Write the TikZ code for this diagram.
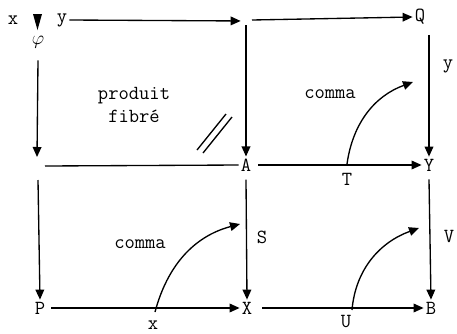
\documentclass[tikz,border=0pt]{standalone}
\usetikzlibrary{arrows.meta,calc}
\begin{document}
\begin{tikzpicture}[x=0.75pt,y=-0.75pt,
  lbl/.style={inner sep=1.5pt,font=\ttfamily\fontsize{15}{17}\selectfont},
  ar/.style={line width=1pt,-{Triangle[length=7.5pt,width=6.5pt]}},
  ln/.style={line width=1pt}]
\useasboundingbox (0,0) rectangle (457,333);
% objects
\node[lbl] (x) at (13,20) {x};
\node[lbl] (y) at (62,20) {y};
\node[lbl] (phi) at (38,42) {$\varphi$};
\coordinate (tm) at (246,21);
\node[lbl] (Q) at (420,17) {Q};
\node[lbl] (A) at (246,165) {A};
\node[lbl] (Y) at (429,165) {Y};
\node[lbl] (P) at (40,308) {P};
\node[lbl] (X) at (247,308) {X};
\node[lbl] (B) at (431,308) {B};
\coordinate (Lc) at (37,166);
% small down wedge
\fill (33,14) -- (42,14) -- (37.5,30) -- cycle;
% labels
\node[lbl] (pf1) at (134,96) {produit};
\node[lbl] (pf2) at (134,116) {fibré};
\node[lbl] (cm1) at (330,94) {comma};
\node[lbl] (cm2) at (140,244) {comma};
\node[lbl] (ly) at (448,66) {y};
\node[lbl] (lT) at (347,179) {T};
\node[lbl] (lS) at (262,237) {S};
\node[lbl] (lx) at (153,325) {x};
\node[lbl] (lU) at (346,322) {U};
\node[lbl] (lV) at (449,236) {V};
% arrows
\draw[ar,shorten >=4pt] (y.east) -- (tm);
\draw[ar] ($(tm)+(6,-1)$) -- (Q.west);
\draw[ar] ($(tm)+(0,4)$) -- (A.north);
\draw[ar] ($(phi.south)+(0,10)$) -- ($(Lc)+(0,-9)$);
\draw[ln] ($(Lc)+(8,0)$) -- (A.west);
\draw[ar] ($(Lc)+(1,14)$) -- (P.north);
\draw[ar] ($(A.east)+(5,0)$) -- (Y.west);
\draw[ar] ($(Y.north |- Q.south)+(0,8)$) -- (Y.north);
\draw[ar] ($(A.south)+(0,6)$) -- (X.north);
\draw[ar] ($(Y.south)+(0,6)$) -- (B.north);
\draw[ar] ($(P.east)+(4,0)$) -- (X.west);
\draw[ar] ($(X.east)+(8,0)$) -- (B.west);
% comma 2-cells
\coordinate (c1s) at (347,164);
\coordinate (c1e) at (413,82);
\coordinate (c2s) at (155,312);
\coordinate (c2e) at (240,224);
\coordinate (c3s) at (352,310);
\coordinate (c3e) at (419,228);
\draw[ar] (c1s) to[out=82,in=200] (c1e);
\draw[ar] (c2s) to[out=75,in=195] (c2e);
\draw[ar] (c3s) to[out=85,in=200] (c3e);
% double slash
\draw[ln] (197,150) -- (226,114);
\draw[ln] (203,153) -- (232,117);
\end{tikzpicture}
\end{document}
